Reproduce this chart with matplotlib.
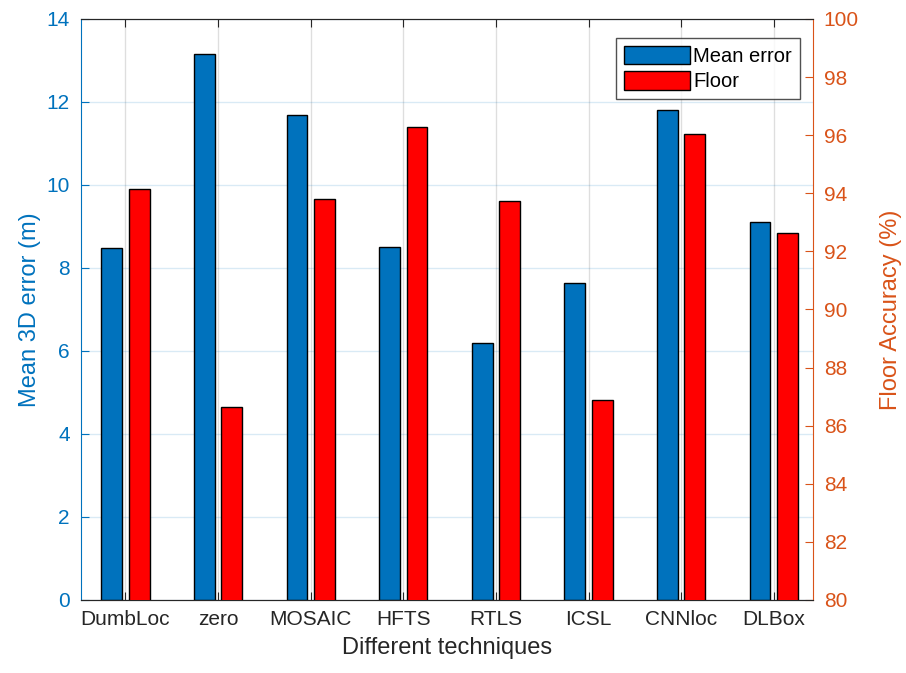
import matplotlib
matplotlib.use("Agg")
import matplotlib.pyplot as plt
import numpy as np

plt.rcParams['font.family'] = ['Liberation Sans', 'DejaVu Sans']

techniques = ["DumbLoc", "zero", "MOSAIC", "HFTS", "RTLS", "ICSL", "CNNloc", "DLBox"]
mean_error = [8.47, 13.16, 11.68, 8.51, 6.19, 7.65, 11.81, 9.10]
floor_acc = [94.16, 86.65, 93.80, 96.27, 93.75, 86.88, 96.03, 92.62]

left_ticks = [0, 2, 4, 6, 8, 10, 12, 14]
right_ticks = [80, 82, 84, 86, 88, 90, 92, 94, 96, 98, 100]

BLUE = "#0072BD"
ORANGE = "#D95319"
RED = "#FF0000"
DARK = "#262626"

fig = plt.figure(figsize=(9.06, 6.73), dpi=100)
ax1 = fig.add_axes([0.0894, 0.1085, 0.8076, 0.8633])
ax2 = ax1.twinx()

x = np.arange(len(techniques))
w = 0.225
off = 0.148

ax1.bar(x - off, mean_error, width=w, color=BLUE, edgecolor="black",
        linewidth=1.0, zorder=3, label="Mean error")
ax2.bar(x + off, floor_acc, width=w, color=RED, edgecolor="black",
        linewidth=1.0, zorder=3, label="Floor", bottom=0)

ax1.set_xlim(-0.48, 7.42)
ax1.set_ylim(0, 14)
ax2.set_ylim(80, 100)
ax1.set_yticks(left_ticks)
ax2.set_yticks(right_ticks)
ax1.set_xticks(x)
ax1.set_xticklabels(techniques)

# grid lines: horizontal from the left axis, vertical at categories
ax1.set_axisbelow(True)
ax1.yaxis.grid(True, color=BLUE, alpha=0.15, linewidth=1.0)
ax1.xaxis.grid(True, color=DARK, alpha=0.15, linewidth=1.0)

fs_tick = 15
fs_label = 17
ax1.tick_params(axis='x', direction='in', length=6, top=True, colors=DARK,
                labelsize=fs_tick, pad=7, labelcolor=DARK)
ax1.tick_params(axis='y', direction='in', length=6, colors=BLUE,
                labelsize=fs_tick, pad=8)
ax2.tick_params(axis='y', direction='in', length=6, colors=ORANGE,
                labelsize=fs_tick, pad=8)

for ax in (ax1, ax2):
    ax.spines['top'].set_color(DARK)
    ax.spines['bottom'].set_color(DARK)
ax1.spines['left'].set_color(BLUE)
ax1.spines['right'].set_visible(False)
ax2.spines['right'].set_color(ORANGE)
ax2.spines['left'].set_visible(False)

ax1.set_xlabel("Different techniques", fontsize=fs_label, color=DARK, labelpad=6)
ax1.set_ylabel("Mean 3D error (m)", fontsize=fs_label, color=BLUE, labelpad=4)
ax2.set_ylabel("Floor Accuracy (%)", fontsize=fs_label, color=ORANGE, labelpad=15)

h1, l1 = ax1.get_legend_handles_labels()
h2, l2 = ax2.get_legend_handles_labels()
leg = ax2.legend(h1 + h2, l1 + l2, loc="upper right", bbox_to_anchor=(0.983, 0.968),
                 fontsize=14.5, frameon=True, fancybox=False, handlelength=3.3,
                 handleheight=1.05, handletextpad=0.15, borderpad=0.4,
                 labelspacing=0.25, borderaxespad=0.0)
leg.get_frame().set_edgecolor(DARK)
leg.get_frame().set_linewidth(1.0)

fig.savefig("out.png", dpi=100)
